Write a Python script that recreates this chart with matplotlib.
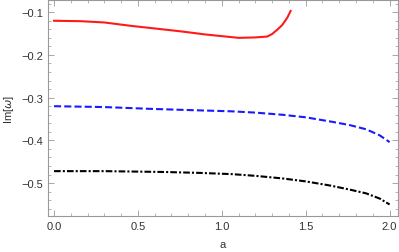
import matplotlib.pyplot as plt
from matplotlib.ticker import MultipleLocator

# données
a_rouge = [0.0, 0.16, 0.30, 0.46, 0.60, 0.76, 0.90, 1.00, 1.10, 1.20, 1.27,
           1.30, 1.33, 1.36, 1.39, 1.41]
im_rouge = [-0.120, -0.121, -0.124, -0.132, -0.138, -0.145, -0.152, -0.156,
            -0.160, -0.159, -0.157, -0.151, -0.141, -0.130, -0.113, -0.097]

a_bleu = [0.0, 0.3, 0.56, 0.8, 1.06, 1.2, 1.36, 1.5, 1.65, 1.76, 1.86, 1.94, 2.0]
im_bleu = [-0.320, -0.322, -0.326, -0.329, -0.332, -0.335, -0.340, -0.346,
           -0.356, -0.364, -0.374, -0.388, -0.404]

a_noir = [0.0, 0.3, 0.66, 0.86, 1.06, 1.2, 1.36, 1.5, 1.65, 1.76, 1.86, 1.94, 2.0]
im_noir = [-0.472, -0.472, -0.474, -0.476, -0.479, -0.483, -0.489, -0.496,
           -0.506, -0.515, -0.524, -0.536, -0.550]

plt.rcParams['font.family'] = ['Liberation Sans', 'DejaVu Sans']
plt.rcParams['mathtext.fontset'] = 'custom'
plt.rcParams['mathtext.it'] = 'DejaVu Sans:italic'

fig = plt.figure(figsize=(3.99, 2.53), dpi=100)
ax = fig.add_axes([48 / 399, 1 - 217 / 253, 350 / 399, 216 / 253])

ax.plot(a_rouge, im_rouge, color='#ff1a1a', lw=1.5, solid_joinstyle='round')
ax.plot(a_bleu, im_bleu, color='#1a1aff', lw=1.5, ls=(0, (3.4, 1.5)))
ax.plot(a_noir, im_noir, color='black', lw=1.5, ls=(0, (3.2, 1.0, 1.0, 1.0)))

ax.set_xlim(-0.036, 2.05)
ax.set_ylim(-0.577, -0.0714)

ax.xaxis.set_major_locator(MultipleLocator(0.5))
ax.xaxis.set_minor_locator(MultipleLocator(0.1))
ax.yaxis.set_major_locator(MultipleLocator(0.1))
ax.yaxis.set_minor_locator(MultipleLocator(0.02))

ax.tick_params(which='both', direction='in', top=True, right=True,
               color='#999999', labelsize=8, labelcolor='#333333')
ax.tick_params(which='major', length=4, width=0.6)
ax.tick_params(which='minor', length=2, width=0.5)
for s in ax.spines.values():
    s.set_color('#999999')
    s.set_linewidth(0.8)

ax.set_xlabel('a', fontsize=8, color='#333333', labelpad=5.5)
ax.set_ylabel('Im[$\\omega$]', fontsize=8, color='#333333')

plt.savefig('out.png', dpi=100)
